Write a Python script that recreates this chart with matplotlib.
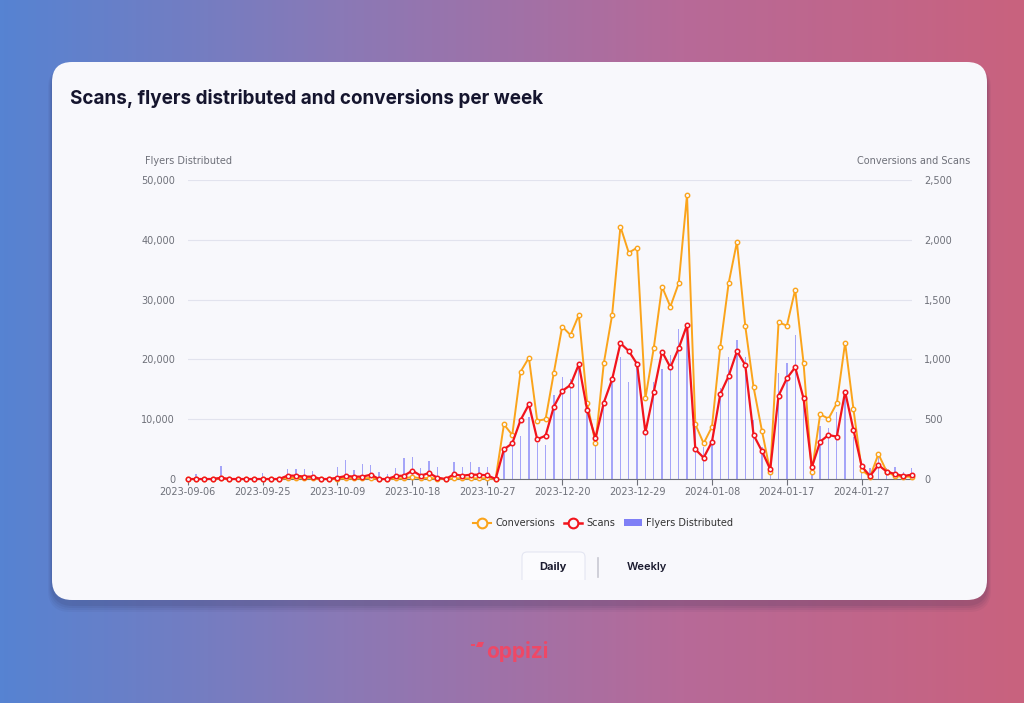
import numpy as np
import matplotlib
matplotlib.use("Agg")
import matplotlib.pyplot as plt
from matplotlib.patches import FancyBboxPatch, Rectangle, Polygon
from matplotlib.lines import Line2D
from matplotlib.colors import LinearSegmentedColormap

# ---------------- data ----------------
tick_labels = ['2023-09-06', '2023-09-25', '2023-10-09', '2023-10-18', '2023-10-27',
               '2023-12-20', '2023-12-29', '2024-01-08', '2024-01-17', '2024-01-27']

conversions = [0, 0, 0, 0, 5, 0, 0, 0, 0, 0, 0, 0,
               8, 10, 8, 6, 0, 0, 3, 5, 5, 5, 8, 0, 0, 5, 5, 17, 5, 8, 3, 0, 5, 5, 5, 5, 5, 0,
               457, 368, 897, 1014, 488, 499, 889, 1274, 1204, 1371, 638, 298, 967, 1371,
               2110, 1892, 1934, 675, 1093, 1608, 1441, 1636, 2375, 457, 298, 437, 1106,
               1636, 1982, 1279, 767, 404, 61, 1310, 1282, 1583, 973, 61, 541, 504, 633,
               1140, 583, 75, 19, 209, 61, 25, 19, 19]

scans = [0, 0, 0, 0, 10, 0, 0, 0, 0, 0, 0, 0,
         28, 28, 20, 20, 0, 0, 11, 25, 20, 20, 36, 0, 0, 25, 28, 70, 28, 50, 11, 0, 39, 28, 36, 36, 31, 0,
         248, 298, 493, 624, 332, 362, 605, 736, 786, 959, 577, 340, 638, 833,
         1135, 1070, 961, 390, 725, 1065, 934, 1093, 1288, 248, 178, 312, 711,
         861, 1068, 953, 368, 234, 81, 697, 842, 934, 675, 98, 312, 368, 354,
         730, 410, 105, 25, 117, 61, 42, 25, 36]

flyers = [0, 780, 0, 0, 2170, 0, 0, 0, 0, 1050, 0, 0,
          1620, 1620, 1620, 1390, 0, 0, 1950, 3180, 1500, 2450, 2340, 1230, 800, 1780, 3460, 3730,
          1780, 2960, 1950, 0, 2840, 1950, 2840, 2060, 1950, 0,
          5000, 5970, 7190, 10420, 6000, 5690, 14050, 17000, 16670, 18500, 11540, 7080, 12500, 16400,
          20450, 16270, 18780, 7640, 16270, 18340, 20740, 25080, 25470, 8860, 5400, 6520, 15170,
          20350, 23240, 20400, 9870, 5400, 2060, 17670, 19340, 24030, 13770, 1500, 8860, 8470, 11260,
          14880, 7080, 2800, 1780, 3730, 1780, 2060, 1230, 1780]

left_ticks = [0, 10000, 20000, 30000, 40000, 50000]
right_ticks = [0, 500, 1000, 1500, 2000, 2500]

# ---------------- figure ----------------
W, H = 1024, 703
fig = plt.figure(figsize=(W / 100, H / 100), dpi=100)

bg = fig.add_axes([0, 0, 1, 1])
bg.set_xlim(0, W)
bg.set_ylim(H, 0)
bg.axis('off')
cmap = LinearSegmentedColormap.from_list('g', ['#5683d2', '#8a79b6', '#b76a98', '#c9627e'])
grad = np.linspace(0, 1, 256).reshape(1, -1)
bg.imshow(grad, cmap=cmap, extent=[0, W, H, 0], aspect='auto', zorder=0)

# card shadow + card
for i, a in enumerate([0.05, 0.06, 0.07, 0.09]):
    off = 8 - i * 2
    bg.add_patch(FancyBboxPatch((52 - off / 2, 62 + 4), 935 + off, 538 + off,
                                boxstyle="round,pad=0,rounding_size=22",
                                fc='#2a2a50', ec='none', alpha=a, zorder=1))
bg.add_patch(FancyBboxPatch((52, 62), 935, 538, boxstyle="round,pad=0,rounding_size=20",
                            fc='#f8f8fc', ec='none', zorder=2))

# Daily / Weekly buttons
bg.add_patch(FancyBboxPatch((522, 552), 63, 34, boxstyle="round,pad=0,rounding_size=5",
                            fc='#fbfbfe', ec='#e4e6f2', lw=0.8, zorder=3))
bg.add_patch(Rectangle((520, 580), 68, 10, fc='#f8f8fc', ec='none', zorder=3))
bg.plot([598, 598], [558, 577], color='#c8c8d2', lw=1.2, zorder=4)
bg.text(553, 567, 'Daily', ha='center', va='center', fontsize=8, fontweight='bold',
        color='#1b1b2f', family='Inter', zorder=5)
bg.text(647, 567, 'Weekly', ha='center', va='center', fontsize=8, fontweight='semibold',
        color='#1b1b2f', family='Inter', zorder=5)

# title
bg.text(70, 99, 'Scans, flyers distributed and conversions per week', ha='left', va='center',
        fontsize=13.6, fontweight='bold', color='#15152e', family='Inter', zorder=5)

# axis titles
bg.text(145, 161, 'Flyers Distributed', ha='left', va='center', fontsize=7,
        color='#6e7079', zorder=5)
bg.text(970, 161, 'Conversions and Scans', ha='right', va='center', fontsize=7,
        color='#6e7079', zorder=5)

# logo
bg.text(517, 651, 'oppizi', ha='center', va='center', fontsize=15, fontweight='bold',
        color='#ee4866', family='Inter', zorder=5)
bg.add_patch(Polygon([[478, 642], [484, 642], [482, 647], [476, 647]], closed=True,
                     fc='#ee4866', ec='none', zorder=5))
bg.add_patch(Polygon([[471, 644], [475, 644], [475, 645.5], [471, 645.5]], closed=True,
                     fc='#ee4866', ec='none', zorder=5))

# ---------------- chart ----------------
x0, x1 = 187.7, 911.7
y0, y1 = 479, 180
ax = fig.add_axes([x0 / W, 1 - y0 / H, (x1 - x0) / W, (y0 - y1) / H])
ax.set_facecolor('none')
n = len(flyers)
x = np.arange(n)

ax.bar(x, flyers, width=0.16, color='#8585f7', alpha=0.72, zorder=2)
ax.set_xlim(0, n - 1)
ax.set_ylim(0, 50000)
ax.set_yticks(left_ticks)
ax.set_yticklabels([f'{v:,}' for v in left_ticks])
ax.grid(axis='y', color='#e2e3ee', lw=0.8, zorder=0)
ax.set_axisbelow(True)
for s in ['top', 'right', 'left']:
    ax.spines[s].set_visible(False)
ax.spines['bottom'].set_color('#6e7079')
ax.spines['bottom'].set_linewidth(0.8)
ax.tick_params(axis='y', length=0, pad=9, labelsize=7, labelcolor='#6e7079')
ax.set_xticks(list(range(0, n, 9)))
ax.set_xticklabels(tick_labels)
ax.tick_params(axis='x', length=4, width=0.8, color='#6e7079', pad=2, labelsize=7,
               labelcolor='#6e7079')

ax2 = ax.twinx()
ax2.set_facecolor('none')
ax2.plot(x, conversions, color='#fba41b', lw=1.4, marker='o', ms=3.2, mfc='#f8f8fc',
         mec='#fba41b', mew=1.0, zorder=3, clip_on=False)
ax2.plot(x, scans, color='#f2141c', lw=1.6, marker='o', ms=3.2, mfc='#f8f8fc',
         mec='#f2141c', mew=1.1, zorder=4, clip_on=False)
ax2.set_ylim(0, 2500)
ax2.set_yticks(right_ticks)
ax2.set_yticklabels([f'{v:,}' for v in right_ticks])
for s in ['top', 'right', 'left', 'bottom']:
    ax2.spines[s].set_visible(False)
ax2.tick_params(axis='y', length=0, pad=9, labelsize=7, labelcolor='#6e7079')

# legend
handles = [
    Line2D([], [], color='#fba41b', lw=1.5, marker='o', ms=7, mfc='#f8f8fc', mec='#fba41b', mew=1.5),
    Line2D([], [], color='#f2141c', lw=1.8, marker='o', ms=7, mfc='#f8f8fc', mec='#f2141c', mew=1.5),
    FancyBboxPatch((0, 0), 1, 1, boxstyle='round,pad=0,rounding_size=0.3', fc='#7f7ff6', ec='none'),
]
fig.legend(handles, ['Conversions', 'Scans', 'Flyers Distributed'], loc='center',
           bbox_to_anchor=(603 / W, 1 - 523 / H), ncol=3, frameon=False, fontsize=7,
           handlelength=1.9, handletextpad=0.4, columnspacing=0.9, labelcolor='#333333')

fig.savefig('out.png', dpi=100)
